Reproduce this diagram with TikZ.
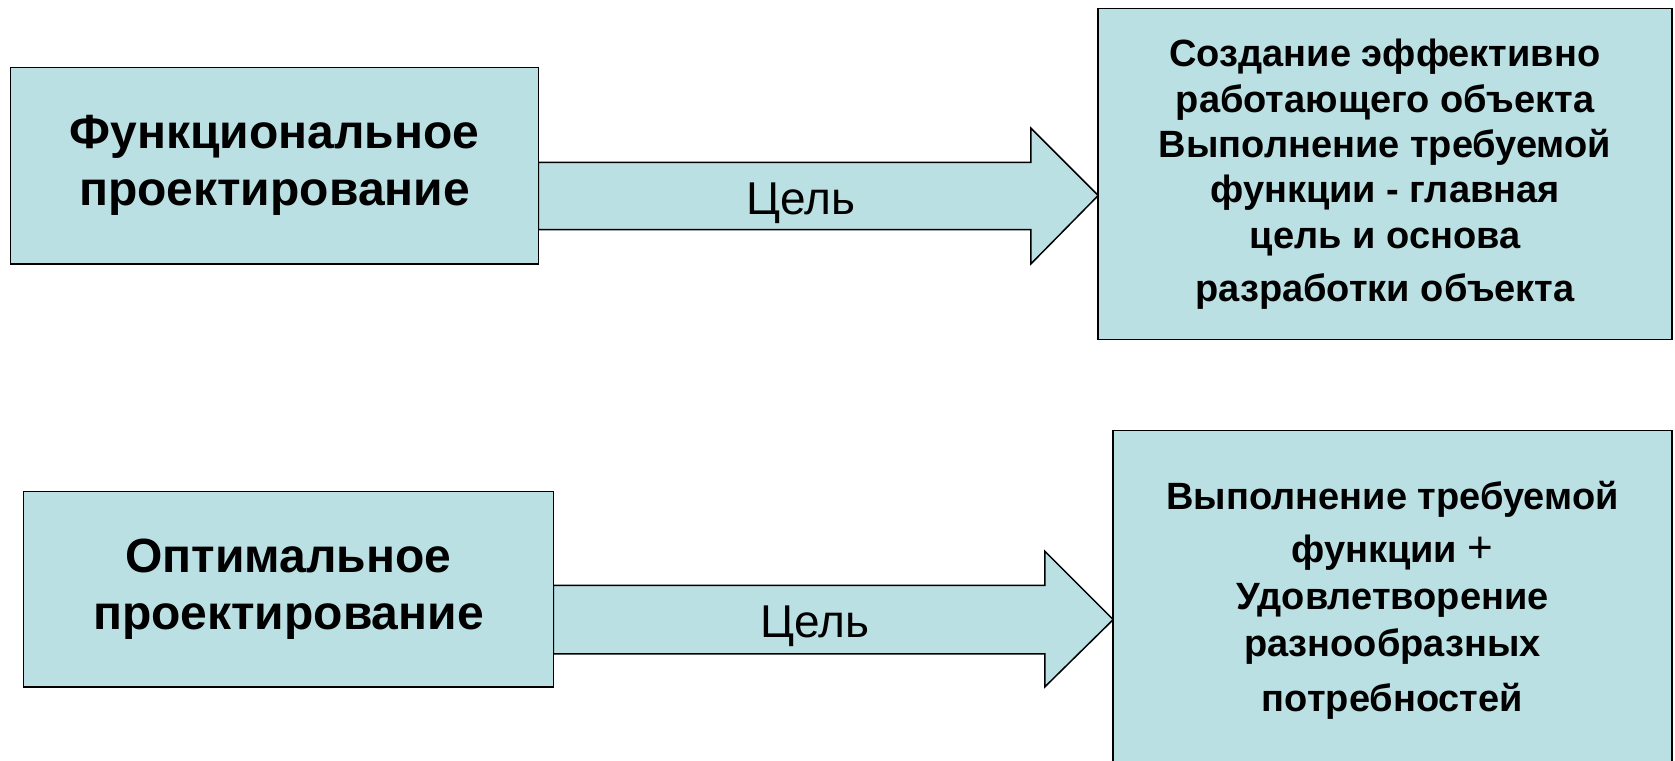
\documentclass[tikz,border=0pt]{standalone}
\usepackage{fontspec}
\setmainfont{Liberation Sans}
\definecolor{boxfill}{HTML}{BBE0E3}
\begin{document}
\begin{tikzpicture}[x=1pt,y=-1pt,
  box/.style={draw=black, line width=1.5pt, fill=boxfill, align=center, inner sep=0pt},
  arrowshape/.style={draw=black, line width=1.5pt, fill=boxfill, line join=miter},
  lbl/.style={font=\fontsize{46}{55}\selectfont, inner sep=0pt, anchor=base}]
\useasboundingbox (0,0) rectangle (1675,760);
\clip (0,0) rectangle (1675,760);
% arrows (drawn first so box borders lie on top)
\draw[arrowshape] (538.4,162.4) -- (1030.9,162.4) -- (1030.9,128.2) -- (1098.2,195.5)
  -- (1030.9,263.9) -- (1030.9,229.7) -- (538.4,229.7) -- cycle;
\draw[arrowshape] (553.4,585.4) -- (1044.8,585.4) -- (1044.8,551.2) -- (1113.2,619.6)
  -- (1044.8,686.9) -- (1044.8,653.8) -- (553.4,653.8) -- cycle;
\node[lbl] (c1) at (801,214.7) {Цель};
\node[lbl] (c2) at (815,637.8) {Цель};
% boxes
\node[box, minimum width=527.7pt, minimum height=196.6pt,
  font=\bfseries\fontsize{48}{57}\selectfont] (b1) at (274.5,165.6)
  {Функциональное\\проектирование};
\node[box, minimum width=573.6pt, minimum height=331.2pt,
  font=\bfseries\fontsize{38}{45.4}\selectfont] (b2) at (1385,174.1)
  {Создание эффективно\\работающего объекта\\Выполнение требуемой\\функции - главная\\цель и основа\\[7.5pt]разработки объекта};
\node[box, minimum width=529.9pt, minimum height=195.5pt,
  font=\bfseries\fontsize{48}{57}\selectfont] (b3) at (288.45,589.15)
  {Оптимальное\\проектирование};
\node[box, minimum width=558.6pt, minimum height=339.5pt,
  font=\bfseries\fontsize{38}{47}\selectfont] (b4) at (1392.5,600.25)
  {Выполнение требуемой\\[6pt]функции {\mdseries\fontsize{44}{47}\selectfont +}\\Удовлетворение\\разнообразных\\[8pt]потребностей};
\end{tikzpicture}
\end{document}
